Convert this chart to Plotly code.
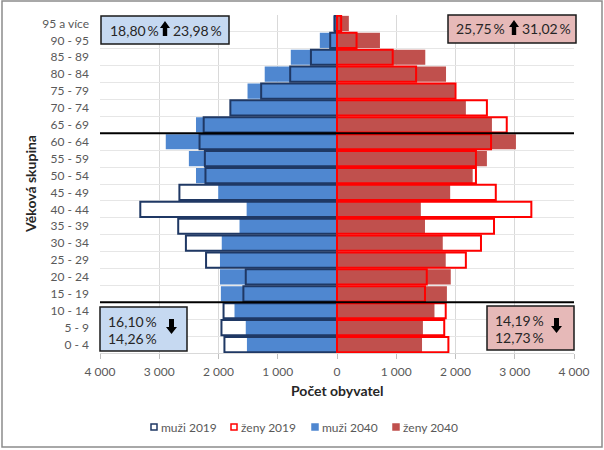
import plotly.graph_objects as go

# věkové skupiny odspodu nahoru
vekove_skupiny = [
    "0 - 4", "5 - 9", "10 - 14", "15 - 19", "20 - 24", "25 - 29", "30 - 34",
    "35 - 39", "40 - 44", "45 - 49", "50 - 54", "55 - 59", "60 - 64",
    "65 - 69", "70 - 74", "75 - 79", "80 - 84", "85 - 89", "90 - 95", "95 a více",
]
muzi_2019 = [1900, 1950, 1915, 1580, 1540, 2210, 2550, 2680, 3320, 2660,
             2220, 2230, 2320, 2250, 1800, 1280, 790, 440, 115, 40]
muzi_2040 = [1520, 1540, 1730, 1960, 1975, 1975, 1945, 1645, 1525, 2005,
             2380, 2500, 2890, 2380, 1790, 1510, 1220, 780, 290, 60]
zeny_2019 = [1880, 1810, 1835, 1485, 1515, 2175, 2430, 2650, 3280, 2680,
             2345, 2345, 2600, 2865, 2530, 2000, 1335, 940, 330, 70]
zeny_2040 = [1435, 1450, 1645, 1855, 1920, 1835, 1785, 1485, 1415, 1910,
             2290, 2530, 3020, 2615, 2175, 1990, 1840, 1490, 725, 200]

osa_x_hodnoty = [-4000, -3000, -2000, -1000, 0, 1000, 2000, 3000, 4000]
osa_x_popisky = ["4 000", "3 000", "2 000", "1 000", "0", "1 000", "2 000", "3 000", "4 000"]

# hranice skupin (mezi 10-14/15-19 a 60-64/65-69)
hranice = [2.5, 12.5]

FONT = "Lato"
MODRA = "#4F87D0"
CERVENA = "#C0504D"
NAVY = "#1F3864"
RED = "#FF0000"

# plocha grafu v pixelech
L, T, W, H = 100, 15, 474, 338


def px(x):
    return (x - L) / W


def py(y):
    return (T + H - y) / H


def sipka(cx, y0, y1, hlava, drik, delka, nahoru=True):
    # plná šipka jako path v souřadnicích paper
    if nahoru:
        spicka, konec, zlom = y0, y1, y0 + delka
    else:
        spicka, konec, zlom = y1, y0, y1 - delka
    body = [(cx, spicka), (cx + hlava, zlom), (cx + drik, zlom), (cx + drik, konec),
            (cx - drik, konec), (cx - drik, zlom), (cx - hlava, zlom)]
    return "M " + " L ".join(f"{px(x):.5f},{py(y):.5f}" for x, y in body) + " Z"


neg = lambda arr: [-v for v in arr]

fig = go.Figure()

# bílá výplň 2019 (pod daty 2040)
fig.add_trace(go.Bar(y=vekove_skupiny, x=neg(muzi_2019), orientation="h",
                     marker=dict(color="white", line=dict(width=0)), hoverinfo="skip"))
fig.add_trace(go.Bar(y=vekove_skupiny, x=zeny_2019, orientation="h",
                     marker=dict(color="white", line=dict(width=0)), hoverinfo="skip"))
# 2040 plné
fig.add_trace(go.Bar(y=vekove_skupiny, x=neg(muzi_2040), orientation="h", name="muži 2040",
                     marker=dict(color=MODRA, line=dict(width=0))))
fig.add_trace(go.Bar(y=vekove_skupiny, x=zeny_2040, orientation="h", name="ženy 2040",
                     marker=dict(color=CERVENA, line=dict(width=0))))
# obrysy 2019 navrchu
fig.add_trace(go.Bar(y=vekove_skupiny, x=neg(muzi_2019), orientation="h", name="muži 2019",
                     marker=dict(color="rgba(0,0,0,0)", line=dict(color=NAVY, width=2))))
fig.add_trace(go.Bar(y=vekove_skupiny, x=zeny_2019, orientation="h", name="ženy 2019",
                     marker=dict(color="rgba(0,0,0,0)", line=dict(color=RED, width=2))))

for h in hranice:
    fig.add_shape(type="line", xref="paper", yref="y", x0=0, x1=1, y0=h, y1=h,
                  line=dict(color="black", width=2))

# rámeček celého grafu
fig.add_shape(type="rect", xref="paper", yref="paper", x0=px(2), x1=px(602), y0=py(1), y1=py(447),
              line=dict(color="#8C8C8C", width=1.5), layer="below")

# informační boxy
boxy = [
    (101, 229, 16, 44, "#C6D9F1"),
    (448, 576, 15, 43, "#E6B9B8"),
    (100, 187, 307, 351, "#C6D9F1"),
    (487, 574, 306, 350, "#E6B9B8"),
]
for x0, x1, y0, y1, barva in boxy:
    fig.add_shape(type="rect", xref="paper", yref="paper", x0=px(x0), x1=px(x1), y0=py(y0), y1=py(y1),
                  fillcolor=barva, line=dict(color="#1A1A1A", width=1.5))

texty = [
    (134, 30, "18,80\u2009%"),
    (197, 30, "23,98\u2009%"),
    (480, 29, "25,75\u2009%"),
    (546, 29, "31,02\u2009%"),
    (132, 321, "16,10\u2009%"),
    (132, 338, "14,26\u2009%"),
    (519, 320, "14,19\u2009%"),
    (519, 337, "12,73\u2009%"),
]
for x, y, t in texty:
    fig.add_annotation(x=px(x), y=py(y), xref="paper", yref="paper", text=t, showarrow=False,
                       xanchor="center", yanchor="middle", font=dict(family=FONT, size=14, color="#262626"))

sipky = [
    (165, 21, 36, 5, 2.2, 7, True),
    (514, 20, 35, 5, 2.2, 7, True),
    (171.5, 319, 334, 5.5, 2.5, 7, False),
    (556.5, 318, 333, 5.5, 2.5, 7, False),
]
for cx, y0, y1, hl, dr, de, up in sipky:
    fig.add_shape(type="path", xref="paper", yref="paper", path=sipka(cx, y0, y1, hl, dr, de, up),
                  fillcolor="black", line=dict(width=0))

# legenda (ručně, malé čtverečky jako v Excelu)
legenda = [
    (151, "muži 2019", "white", NAVY),
    (231, "ženy 2019", "white", RED),
    (312, "muži 2040", MODRA, MODRA),
    (393, "ženy 2040", CERVENA, CERVENA),
]
LEG_Y = 427
for x, nazev, vypln, okraj in legenda:
    fig.add_shape(type="rect", xref="paper", yref="paper", x0=px(x), x1=px(x + 6),
                  y0=py(LEG_Y - 3), y1=py(LEG_Y + 3), fillcolor=vypln,
                  line=dict(color=okraj, width=1.5))
    fig.add_annotation(x=px(x + 8), y=py(LEG_Y), xref="paper", yref="paper", text=nazev,
                       showarrow=False, xanchor="left", yanchor="middle",
                       font=dict(family=FONT, size=12, color="#595959"))

# popisy os
fig.add_annotation(x=px(30), y=py(184), xref="paper", yref="paper", text="<b>Věková skupina</b>",
                   textangle=-90, showarrow=False, xanchor="center", yanchor="middle",
                   font=dict(family=FONT, size=14, color="#262626"))
fig.add_annotation(x=px(337), y=py(390), xref="paper", yref="paper", text="<b>Počet obyvatel</b>",
                   showarrow=False, xanchor="center", yanchor="middle",
                   font=dict(family=FONT, size=14, color="#262626"))

fig.update_layout(
    width=604, height=450,
    margin=dict(l=L, r=604 - L - W, t=T, b=450 - T - H, autoexpand=False),
    barmode="overlay", bargap=0.1, showlegend=False,
    plot_bgcolor="white", paper_bgcolor="white",
    font=dict(family=FONT, size=12, color="#595959"),
    xaxis=dict(range=[-4000, 4000], tickvals=osa_x_hodnoty, ticktext=osa_x_popisky,
               showgrid=True, gridcolor="#D9D9D9", zeroline=False, automargin=False,
               showline=True, linecolor="#D9D9D9", ticks="outside", ticklen=5,
               tickcolor="#BFBFBF", ticklabelstandoff=3, fixedrange=True),
    yaxis=dict(type="category", categoryorder="array", categoryarray=vekove_skupiny,
               range=[-0.5, len(vekove_skupiny) - 0.5], tickson="boundaries",
               showgrid=True, gridcolor="#E6E6E6", ticks="", ticklabelstandoff=10,
               zeroline=False, fixedrange=True, automargin=False),
)

fig.write_html("out.html", config={"displayModeBar": False},
               post_script="document.body.style.margin='0';")
